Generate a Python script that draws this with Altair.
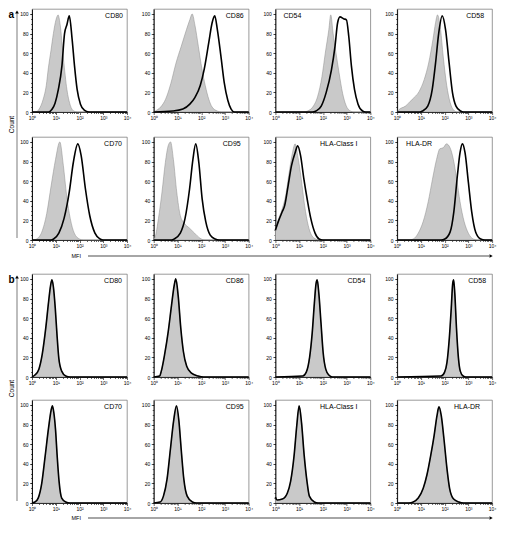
import altair as alt
import pandas as pd

# ---------------- data (x = log10 MFI, y = count) ----------------
# section a : grey = control, black = stained
A_CD80_GRAY_E = [0, 0.15, 0.3, 0.47, 0.6, 0.69, 0.8, 0.9, 1.01, 1.1, 1.18, 1.33, 1.47, 1.61, 1.76, 1.9, 4]
A_CD80_GRAY_C = [0, 0, 3, 13, 27, 45, 63, 80, 94, 99, 90, 53, 23, 7, 1, 0, 0]
A_CD80_BLACK_E = [0, 0.7, 0.85, 0.97, 1.11, 1.26, 1.37, 1.47, 1.57, 1.69, 1.79, 1.9, 2.04, 2.2, 2.4, 4]
A_CD80_BLACK_C = [0, 0, 3, 9, 23, 47, 80, 89, 98, 74, 47, 23, 8, 2, 0, 0]

A_CD86_GRAY_E = [0, 0.07, 0.29, 0.5, 0.72, 0.94, 1.16, 1.38, 1.52, 1.62, 1.74, 1.88, 2.03, 2.17, 2.32, 2.46, 2.68, 2.85, 4]
A_CD86_GRAY_C = [0, 1, 5, 13, 29, 50, 67, 84, 94, 100, 88, 67, 44, 27, 13, 5, 1, 0, 0]
A_CD86_BLACK_E = [0, 0.8, 1.23, 1.52, 1.74, 1.96, 2.13, 2.32, 2.46, 2.57, 2.68, 2.83, 2.97, 3.12, 3.26, 3.4, 4]
A_CD86_BLACK_C = [0, 1, 3, 8, 15, 27, 44, 71, 91, 98, 84, 57, 30, 12, 3, 0, 0]

A_CD54_GRAY_E = [0, 1.2, 1.35, 1.57, 1.78, 1.96, 2.1, 2.25, 2.33, 2.43, 2.54, 2.68, 2.83, 2.97, 3.16, 3.3, 4]
A_CD54_GRAY_C = [0, 0, 1, 5, 16, 36, 60, 84, 99, 80, 62, 40, 19, 7, 1, 0, 0]
A_CD54_BLACK_E = [0, 1.55, 1.71, 1.93, 2.14, 2.36, 2.51, 2.62, 2.72, 2.87, 2.99, 3.09, 3.2, 3.33, 3.48, 3.67, 3.8, 4]
A_CD54_BLACK_C = [0, 0, 1, 6, 20, 43, 67, 91, 97, 95, 94, 77, 47, 23, 8, 1, 0, 0]

A_CD58_GRAY_E = [0, 0.06, 0.35, 0.64, 0.93, 1.14, 1.33, 1.51, 1.62, 1.7, 1.83, 1.94, 2.09, 2.23, 2.38, 2.52, 4]
A_CD58_GRAY_C = [0, 2, 6, 13, 21, 33, 50, 74, 91, 99, 84, 57, 27, 10, 2, 0, 0]
A_CD58_BLACK_E = [0, 0.95, 1.07, 1.29, 1.48, 1.62, 1.75, 1.9, 2.04, 2.19, 2.33, 2.48, 2.67, 2.8, 4]
A_CD58_BLACK_C = [0, 0, 1, 6, 23, 50, 80, 98, 84, 50, 20, 6, 1, 0, 0]

A_CD70_GRAY_E = [0, 0.05, 0.19, 0.41, 0.62, 0.81, 0.99, 1.17, 1.32, 1.46, 1.61, 1.78, 2.0, 2.15, 4]
A_CD70_GRAY_C = [0, 0, 1, 8, 27, 56, 82, 100, 76, 45, 22, 7, 1, 0, 0]
A_CD70_BLACK_E = [0, 0.8, 0.91, 1.13, 1.35, 1.57, 1.74, 1.93, 2.07, 2.25, 2.43, 2.65, 2.87, 3.0, 4]
A_CD70_BLACK_C = [0, 0, 1, 7, 22, 49, 79, 98, 86, 52, 25, 7, 1, 0, 0]

A_CD95_GRAY_E = [0, 0.06, 0.2, 0.35, 0.49, 0.61, 0.71, 0.83, 0.97, 1.12, 1.29, 1.51, 1.72, 1.94, 2.15, 4]
A_CD95_GRAY_C = [1, 3, 22, 49, 79, 96, 100, 82, 49, 25, 17, 12, 7, 2, 0, 0]
A_CD95_BLACK_E = [0, 0.75, 0.86, 1.12, 1.32, 1.51, 1.65, 1.77, 1.9, 2.04, 2.19, 2.38, 2.59, 2.75, 4]
A_CD95_BLACK_C = [0, 0, 1, 7, 22, 52, 82, 98, 79, 42, 19, 5, 1, 0, 0]

A_HLAI_GRAY_E = [0, 0.14, 0.29, 0.43, 0.58, 0.72, 0.83, 0.94, 1.09, 1.23, 1.38, 1.52, 1.7, 1.85, 4]
A_HLAI_GRAY_C = [12, 22, 32, 45, 69, 89, 98, 86, 62, 35, 15, 5, 1, 0, 0]
A_HLAI_BLACK_E = [0, 0.14, 0.29, 0.39, 0.54, 0.68, 0.83, 0.94, 1.06, 1.2, 1.35, 1.49, 1.67, 1.84, 2.0, 4]
A_HLAI_BLACK_C = [10, 20, 29, 35, 56, 76, 89, 96, 86, 62, 40, 22, 7, 1, 0, 0]

A_HLADR_GRAY_E = [0, 0.5, 0.68, 0.89, 1.1, 1.31, 1.49, 1.66, 1.8, 1.94, 2.08, 2.23, 2.37, 2.51, 2.65, 2.82, 3.0, 3.21, 3.4, 4]
A_HLADR_GRAY_C = [0, 0, 1, 7, 19, 39, 62, 82, 93, 94, 98, 94, 82, 62, 39, 19, 7, 1, 0, 0]
A_HLADR_BLACK_E = [0, 1.85, 2.01, 2.23, 2.39, 2.54, 2.65, 2.75, 2.86, 3.0, 3.14, 3.31, 3.52, 3.7, 4]
A_HLADR_BLACK_C = [0, 0, 1, 8, 29, 66, 89, 98, 89, 59, 29, 8, 1, 0, 0]

# section b : grey fill and black outline coincide
B_CD80_E = [0, 0.12, 0.29, 0.43, 0.58, 0.7, 0.78, 0.84, 0.9, 0.98, 1.05, 1.13, 1.25, 1.42, 1.6, 4]
B_CD80_C = [0, 2, 8, 23, 50, 77, 93, 99, 92, 70, 44, 19, 6, 1, 0, 0]
B_CD86_E = [0, 0.25, 0.32, 0.46, 0.61, 0.75, 0.86, 0.93, 1.03, 1.14, 1.25, 1.39, 1.59, 1.87, 2.1, 4]
B_CD86_C = [0, 1, 6, 23, 46, 73, 93, 100, 83, 50, 26, 11, 4, 1, 0, 0]
B_CD54_E = [0, 1.15, 1.3, 1.44, 1.55, 1.64, 1.71, 1.76, 1.83, 1.92, 2.01, 2.12, 2.25, 2.4, 4]
B_CD54_C = [0, 1, 5, 20, 45, 75, 95, 99, 85, 55, 25, 8, 2, 0, 0]
B_CD58_E = [0, 1.85, 2.0, 2.1, 2.2, 2.28, 2.34, 2.38, 2.43, 2.5, 2.58, 2.66, 2.78, 2.9, 4]
B_CD58_C = [0, 1, 5, 15, 40, 70, 95, 99, 85, 50, 20, 6, 1, 0, 0]
B_CD70_E = [0, 0.12, 0.26, 0.41, 0.55, 0.7, 0.8, 0.86, 0.92, 0.99, 1.06, 1.14, 1.25, 1.42, 1.6, 4]
B_CD70_C = [0, 1, 5, 20, 47, 77, 94, 99, 92, 75, 48, 22, 5, 1, 0, 0]
B_CD95_E = [0, 0.27, 0.41, 0.56, 0.7, 0.84, 0.96, 1.06, 1.16, 1.27, 1.41, 1.63, 1.8, 4]
B_CD95_C = [0, 1, 7, 24, 54, 84, 99, 84, 54, 24, 7, 1, 0, 0]
B_HLAI_E = [0, 0.07, 0.29, 0.5, 0.64, 0.79, 0.9, 1.0, 1.1, 1.21, 1.33, 1.43, 1.64, 1.8, 4]
B_HLAI_C = [6, 3, 4, 10, 22, 49, 79, 99, 82, 49, 22, 7, 1, 0, 0]
B_HLADR_E = [0, 0.5, 0.68, 0.89, 1.1, 1.26, 1.42, 1.56, 1.68, 1.76, 1.86, 1.97, 2.1, 2.21, 2.38, 2.6, 2.8, 4]
B_HLADR_C = [0, 0, 1, 5, 15, 29, 49, 69, 89, 98, 89, 66, 35, 15, 4, 1, 0, 0]

PANEL_NAMES = ["CD80", "CD86", "CD54", "CD58", "CD70", "CD95", "HLA-Class I", "HLA-DR"]
X_TICKS = [1, 10, 100, 1000, 10000]
X_MINOR = [2, 3, 4, 5, 6, 7, 8, 9, 20, 30, 40, 50, 60, 70, 80, 90,
           200, 300, 400, 500, 600, 700, 800, 900, 2000, 3000, 4000, 5000, 6000, 7000, 8000, 9000]
Y_TICKS = [0, 20, 40, 60, 80, 100]
Y_MINOR = [0, 5, 10, 15, 20, 25, 30, 35, 40, 45, 50, 55, 60, 65, 70, 75, 80, 85, 90, 95, 100]

# ---------------- styling ----------------
FONT = "Liberation Sans"
W, H = 95, 103
GAP_A, GAP_B, COL_GAP = 25, 23, 26.7
XS = alt.Scale(type="log", domain=[1, 10000], nice=False)
YS = alt.Scale(domain=[0, 105], nice=False, zero=True)
LABEL_EXPR = "'10' + ['\u2070','\u00b9','\u00b2','\u00b3','\u2074'][round(log(datum.value)/LN10)]"

X_MAJOR = alt.Axis(orient="bottom", values=X_TICKS, labelExpr=LABEL_EXPR, tickSize=2.5,
                   labelFlush=False, labelFontSize=5, labelPadding=1, grid=False, title=None)
X_MIN = alt.Axis(orient="bottom", values=X_MINOR, labels=False, tickSize=1.5, domain=False,
                 grid=False, title=None)
Y_MAJOR = alt.Axis(orient="left", values=Y_TICKS, tickSize=2.5, labelFlush=False,
                   labelFontSize=5, labelPadding=1.5, grid=False, title=None)
Y_MIN = alt.Axis(orient="left", values=Y_MINOR, labels=False, tickSize=1.5, domain=False,
                 grid=False, title=None)

ONE = pd.DataFrame({"k": [0]})


def curve(e_list, c_list):
    return pd.DataFrame({"mfi": [10 ** e for e in e_list], "count": c_list})


def deco_layers(letter, gap, mfi_dy):
    txt = dict(font=FONT, color="black")
    bottom = 2 * H + gap
    mfi_y = bottom + mfi_dy
    right = 4 * W + 3 * COL_GAP
    return [
        alt.Chart(ONE).mark_text(text=letter, fontWeight="bold", fontSize=10, align="left",
                                 baseline="top", **txt).encode(x=alt.value(-23.5), y=alt.value(0.5)),
        alt.Chart(ONE).mark_rule(color="#9a9a9a", strokeWidth=1.3).encode(
            x=alt.value(-15), y=alt.value(4), y2=alt.value(bottom - 2)),
        alt.Chart(ONE).mark_point(shape="triangle-up", filled=True, size=14, color="black",
                                  opacity=1).encode(x=alt.value(-15), y=alt.value(3)),
        alt.Chart(ONE).mark_text(text="Count", angle=270, fontSize=6.5, align="center",
                                 baseline="middle", **txt).encode(
            x=alt.value(-20.5), y=alt.value(H + gap / 2)),
        alt.Chart(ONE).mark_text(text="MFI", fontSize=5.5, align="right", baseline="middle",
                                 **txt).encode(x=alt.value(49), y=alt.value(mfi_y)),
        alt.Chart(ONE).mark_rule(color="black", strokeWidth=0.7).encode(
            x=alt.value(56), x2=alt.value(right - 3), y=alt.value(mfi_y)),
        alt.Chart(ONE).mark_point(shape="triangle-right", filled=True, size=14, color="black",
                                  opacity=1).encode(x=alt.value(right - 1), y=alt.value(mfi_y)),
    ]


def panel(name, gray, black, align, lx, extra=None):
    g = alt.Chart(curve(*gray)).mark_area(
        fill="#c9c9c9", stroke="#8a8a8a", strokeWidth=0.5, interpolate="monotone"
    ).encode(x=alt.X("mfi:Q", scale=XS, axis=X_MAJOR),
             y=alt.Y("count:Q", scale=YS, axis=Y_MAJOR))
    b = alt.Chart(curve(*black)).mark_line(
        color="black", strokeWidth=1.6, interpolate="monotone"
    ).encode(x=alt.X("mfi:Q", scale=XS, axis=X_MIN),
             y=alt.Y("count:Q", scale=YS, axis=Y_MIN))
    t = alt.Chart(ONE).mark_text(text=name, font=FONT, fontSize=7, align=align,
                                 baseline="middle", color="black").encode(
        x=alt.value(lx), y=alt.value(7))
    layers = [g, b, t] + (extra or [])
    return alt.layer(*layers).resolve_axis(x="independent", y="independent").properties(
        width=W, height=H)


A_GRAY = [(A_CD80_GRAY_E, A_CD80_GRAY_C), (A_CD86_GRAY_E, A_CD86_GRAY_C),
          (A_CD54_GRAY_E, A_CD54_GRAY_C), (A_CD58_GRAY_E, A_CD58_GRAY_C),
          (A_CD70_GRAY_E, A_CD70_GRAY_C), (A_CD95_GRAY_E, A_CD95_GRAY_C),
          (A_HLAI_GRAY_E, A_HLAI_GRAY_C), (A_HLADR_GRAY_E, A_HLADR_GRAY_C)]
A_BLACK = [(A_CD80_BLACK_E, A_CD80_BLACK_C), (A_CD86_BLACK_E, A_CD86_BLACK_C),
           (A_CD54_BLACK_E, A_CD54_BLACK_C), (A_CD58_BLACK_E, A_CD58_BLACK_C),
           (A_CD70_BLACK_E, A_CD70_BLACK_C), (A_CD95_BLACK_E, A_CD95_BLACK_C),
           (A_HLAI_BLACK_E, A_HLAI_BLACK_C), (A_HLADR_BLACK_E, A_HLADR_BLACK_C)]
B_CURVES = [(B_CD80_E, B_CD80_C), (B_CD86_E, B_CD86_C), (B_CD54_E, B_CD54_C),
            (B_CD58_E, B_CD58_C), (B_CD70_E, B_CD70_C), (B_CD95_E, B_CD95_C),
            (B_HLAI_E, B_HLAI_C), (B_HLADR_E, B_HLADR_C)]

A_LABEL_POS = [("right", W - 4), ("right", W - 5), ("left", 8), ("right", W - 8),
               ("right", W - 5), ("right", W - 8), ("right", W - 13), ("left", 9)]
B_LABEL_POS = [("right", W - 5), ("right", W - 5), ("right", W - 5), ("right", W - 6),
               ("right", W - 5), ("right", W - 5), ("right", W - 13), ("right", W - 12)]

panels_a = []
for i, name in enumerate(PANEL_NAMES):
    al, lx = A_LABEL_POS[i]
    extra = deco_layers("a", GAP_A, 16) if i == 0 else None
    panels_a.append(panel(name, A_GRAY[i], A_BLACK[i], al, lx, extra))

panels_b = []
for i, name in enumerate(PANEL_NAMES):
    al, lx = B_LABEL_POS[i]
    extra = deco_layers("b", GAP_B, 15) if i == 0 else None
    panels_b.append(panel(name, B_CURVES[i], B_CURVES[i], al, lx, extra))

grid_a = alt.concat(*panels_a, columns=4, spacing={"row": GAP_A, "column": COL_GAP},
                    bounds="flush")
grid_b = alt.concat(*panels_b, columns=4, spacing={"row": GAP_B, "column": COL_GAP},
                    bounds="flush")

chart = alt.vconcat(grid_a, grid_b, spacing=13).properties(padding=0).configure_view(
    stroke="#6e6e6e", strokeWidth=0.7
).configure_axis(
    labelFont=FONT, labelColor="black", tickColor="black", domainColor="black",
    tickWidth=0.6, domainWidth=0.9
)

chart.save("out.html", embed_options={"renderer": "svg", "actions": False})
